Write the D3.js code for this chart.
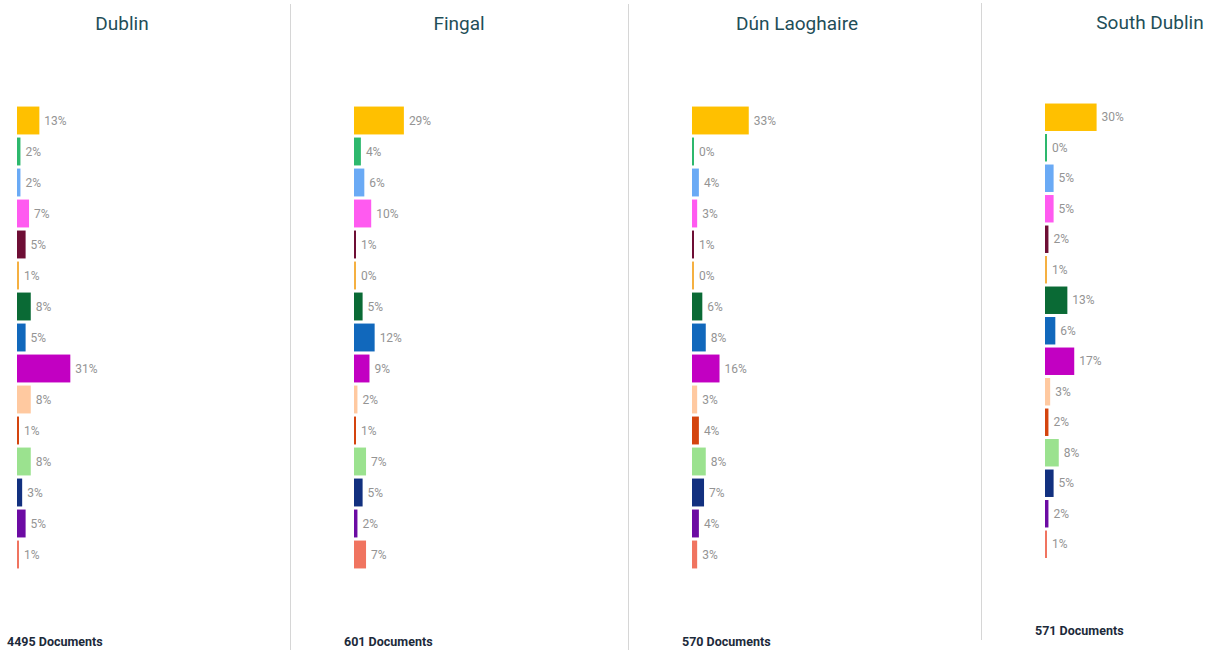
<!DOCTYPE html>
<html>
<head>
<meta charset="utf-8">
<script src="https://cdn.jsdelivr.net/npm/d3@7"></script>
<style>
  body { margin: 0; background: #fff; }
  text { font-family: Roboto, "Noto Sans", sans-serif; }
</style>
</head>
<body>
<div id="chart"></div>
<script>
// data
let regions = ["Dublin", "Fingal", "Dún Laoghaire", "South Dublin"];
let documents = [4495, 601, 570, 571];
let dublinValues = [13, 2, 2, 7, 5, 1, 8, 5, 31, 8, 1, 8, 3, 5, 1];
let fingalValues = [29, 4, 6, 10, 1, 0, 5, 12, 9, 2, 1, 7, 5, 2, 7];
let dunValues = [33, 0, 4, 3, 1, 0, 6, 8, 16, 3, 4, 8, 7, 4, 3];
let southValues = [30, 0, 5, 5, 2, 1, 13, 6, 17, 3, 2, 8, 5, 2, 1];
let barColors = ["#ffc000", "#2db86d", "#6aaaf5", "#ff5af0", "#6e0e35", "#f5b041", "#0a6a35",
    "#1168bc", "#c200c2", "#ffc9a0", "#d4440e", "#9be28f", "#12307f", "#6c0ba3", "#f07460"];

let allValues = [dublinValues, fingalValues, dunValues, southValues];

// layout of each panel (from the screenshot)
let panels = [
    {x: 17, top: 105, step: 31, titleY: 30, footY: 646},
    {x: 354, top: 105, step: 31, titleY: 30, footY: 646},
    {x: 692, top: 105, step: 31, titleY: 30, footY: 646},
    {x: 1045, top: 102, step: 30.5, titleY: 29, footY: 635}
];
let dividers = [{x: 290, y1: 4, y2: 650}, {x: 628, y1: 4, y2: 650}, {x: 981, y1: 3, y2: 640}];

let width = 1205, height = 650;

let svg = d3.select("#chart").append("svg")
    .attr("width", width)
    .attr("height", height);

let xscale = d3.scaleLinear()
    .domain([0, 100])
    .range([0, 172]);

svg.selectAll(".divider")
    .data(dividers)
    .enter().append("line")
    .attr("class", "divider")
    .attr("x1", d => d.x + 0.5)
    .attr("x2", d => d.x + 0.5)
    .attr("y1", d => d.y1)
    .attr("y2", d => d.y2)
    .style("stroke", "#d6d6d6")
    .style("stroke-width", 1);

regions.forEach(function (name, i) {
    let p = panels[i];
    let values = allValues[i];

    let yscale = d3.scaleBand()
        .domain(d3.range(values.length))
        .range([p.top, p.top + p.step * values.length])
        .paddingInner(0.1)
        .paddingOuter(0.05);

    let g = svg.append("g")
        .attr("transform", "translate(" + p.x + ",0)");

    g.append("text")
        .attr("x", 105)
        .attr("y", p.titleY)
        .attr("text-anchor", "middle")
        .style("font-size", "19px")
        .style("fill", "#1f4e58")
        .text(name);

    g.selectAll(".bar")
        .data(values)
        .enter().append("rect")
        .attr("class", "bar")
        .attr("x", 0)
        .attr("y", (d, j) => yscale(j))
        .attr("width", d => Math.max(2, xscale(d)))
        .attr("height", yscale.bandwidth())
        .style("fill", (d, j) => barColors[j]);

    g.selectAll(".label")
        .data(values)
        .enter().append("text")
        .attr("class", "label")
        .attr("x", d => Math.max(2, xscale(d)) + 5)
        .attr("y", (d, j) => yscale(j) + yscale.bandwidth() / 2)
        .attr("dy", "0.35em")
        .style("font-size", "12px")
        .style("fill", "#949494")
        .text(d => d + "%");

    g.append("text")
        .attr("x", -10)
        .attr("y", p.footY)
        .style("font-size", "12.5px")
        .style("font-weight", "bold")
        .style("fill", "#1c2a3a")
        .text(documents[i] + " Documents");
});
</script>
</body>
</html>
